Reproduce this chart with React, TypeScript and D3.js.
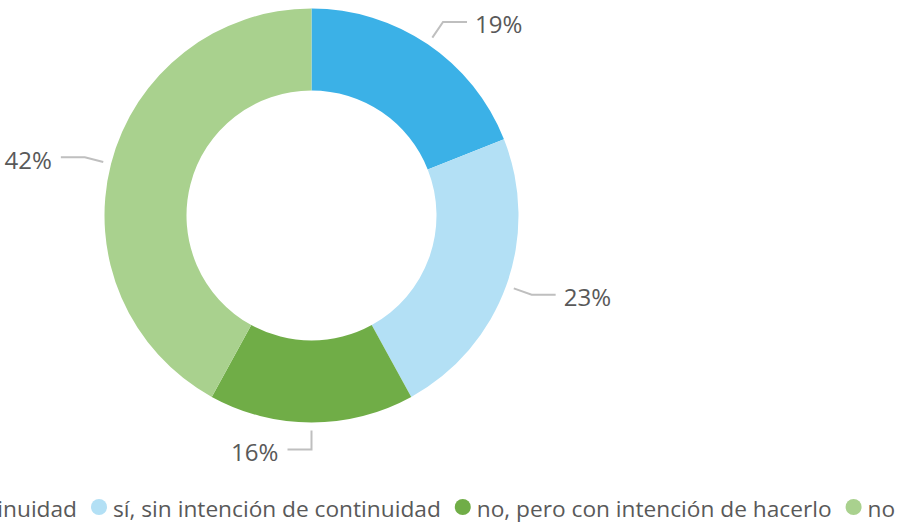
import React, { useEffect, useRef } from 'react';
import * as d3 from 'd3';

const categories = [
  'sí, con intención de continuidad',
  'sí, sin intención de continuidad',
  'no, pero con intención de hacerlo',
  'no',
];
const values = [19, 23, 16, 42];
const colors = ['#3bb1e7', '#b3e0f5', '#70ad47', '#a9d18e'];

const width = 897;
const height = 526;

const App: React.FC = () => {
  const svgRef = useRef<SVGSVGElement>(null);

  useEffect(() => {
    if (!svgRef.current) return;
    const svg = d3.select(svgRef.current);
    svg.selectAll('*').remove();

    const cx = 311.5;
    const cy = 215.5;
    const outer = 207;
    const inner = 125;
    const font = '"Open Sans", "Noto Sans", sans-serif';

    // size the text so the second legend entry spans ~328px like the original
    const probe = svg.append('text')
      .style('font-family', font)
      .style('font-size', '20px')
      .text(categories[1]);
    const probeW = (probe.node() as SVGTextElement).getComputedTextLength();
    probe.remove();
    const fontSize = Math.min(26, Math.max(18, (20 * 328) / probeW));
    const labelSize = fontSize * 1.06;

    const pie = d3.pie<number>().sort(null).value(d => d);
    const arcs = pie(values);
    const arc = d3.arc<d3.PieArcDatum<number>>().innerRadius(inner).outerRadius(outer);

    const g = svg.append('g').attr('transform', `translate(${cx},${cy})`);

    g.selectAll('path.slice')
      .data(arcs)
      .enter()
      .append('path')
      .attr('class', 'slice')
      .attr('d', arc)
      .attr('fill', (_, i) => colors[i]);

    // Leader lines and labels: short radial piece then horizontal
    arcs.forEach((a, i) => {
      const mid = (a.startAngle + a.endAngle) / 2;
      const sx = Math.sin(mid);
      const sy = -Math.cos(mid);
      const p0: [number, number] = [sx * (outer + 8), sy * (outer + 8)];
      const p1: [number, number] = [sx * (outer + 27), sy * (outer + 27)];
      const right = sx > 0.001;
      const p2: [number, number] = right ? [p1[0] + 24, p1[1]] : [p1[0] - 24, p1[1]];
      const tx = right ? p2[0] + 8 : p2[0] - 9;
      g.append('path')
        .attr('d', d3.line()([p0, p1, p2]))
        .attr('fill', 'none')
        .attr('stroke', '#bfbfbf')
        .attr('stroke-width', 2);
      g.append('text')
        .attr('x', tx)
        .attr('y', p2[1] + 3)
        .attr('dy', '0.35em')
        .attr('text-anchor', right ? 'start' : 'end')
        .attr('fill', '#595959')
        .style('font-family', font)
        .style('font-size', `${labelSize}px`)
        .text(`${values[i]}%`);
    });

    // Legend, laid out by measured text widths; second entry text starts at x=113
    const legendY = 509;
    const items = svg.append('g');
    const texts = categories.map(c =>
      items.append('text')
        .attr('y', legendY)
        .attr('dy', '0.35em')
        .attr('fill', '#595959')
        .style('font-family', font)
        .style('font-size', `${fontSize}px`)
        .text(c)
    );
    const widths = texts.map(t => (t.node() as SVGTextElement).getComputedTextLength());
    const gap = 22; // text end to next circle centre
    const circleToText = 14;
    const xs: number[] = [];
    xs[1] = 113;
    xs[0] = xs[1] - circleToText - gap - widths[0];
    for (let i = 2; i < categories.length; i++) {
      xs[i] = xs[i - 1] + widths[i - 1] + gap + circleToText;
    }
    texts.forEach((t, i) => t.attr('x', xs[i]));
    xs.forEach((x, i) => {
      items.append('circle')
        .attr('cx', x - circleToText)
        .attr('cy', legendY - 2)
        .attr('r', 8)
        .attr('fill', colors[i]);
    });
  }, []);

  return (
    <svg
      ref={svgRef}
      width={width}
      height={height}
      style={{ position: 'absolute', left: 0, top: 0, background: '#fff' }}
    />
  );
};

export default App;
